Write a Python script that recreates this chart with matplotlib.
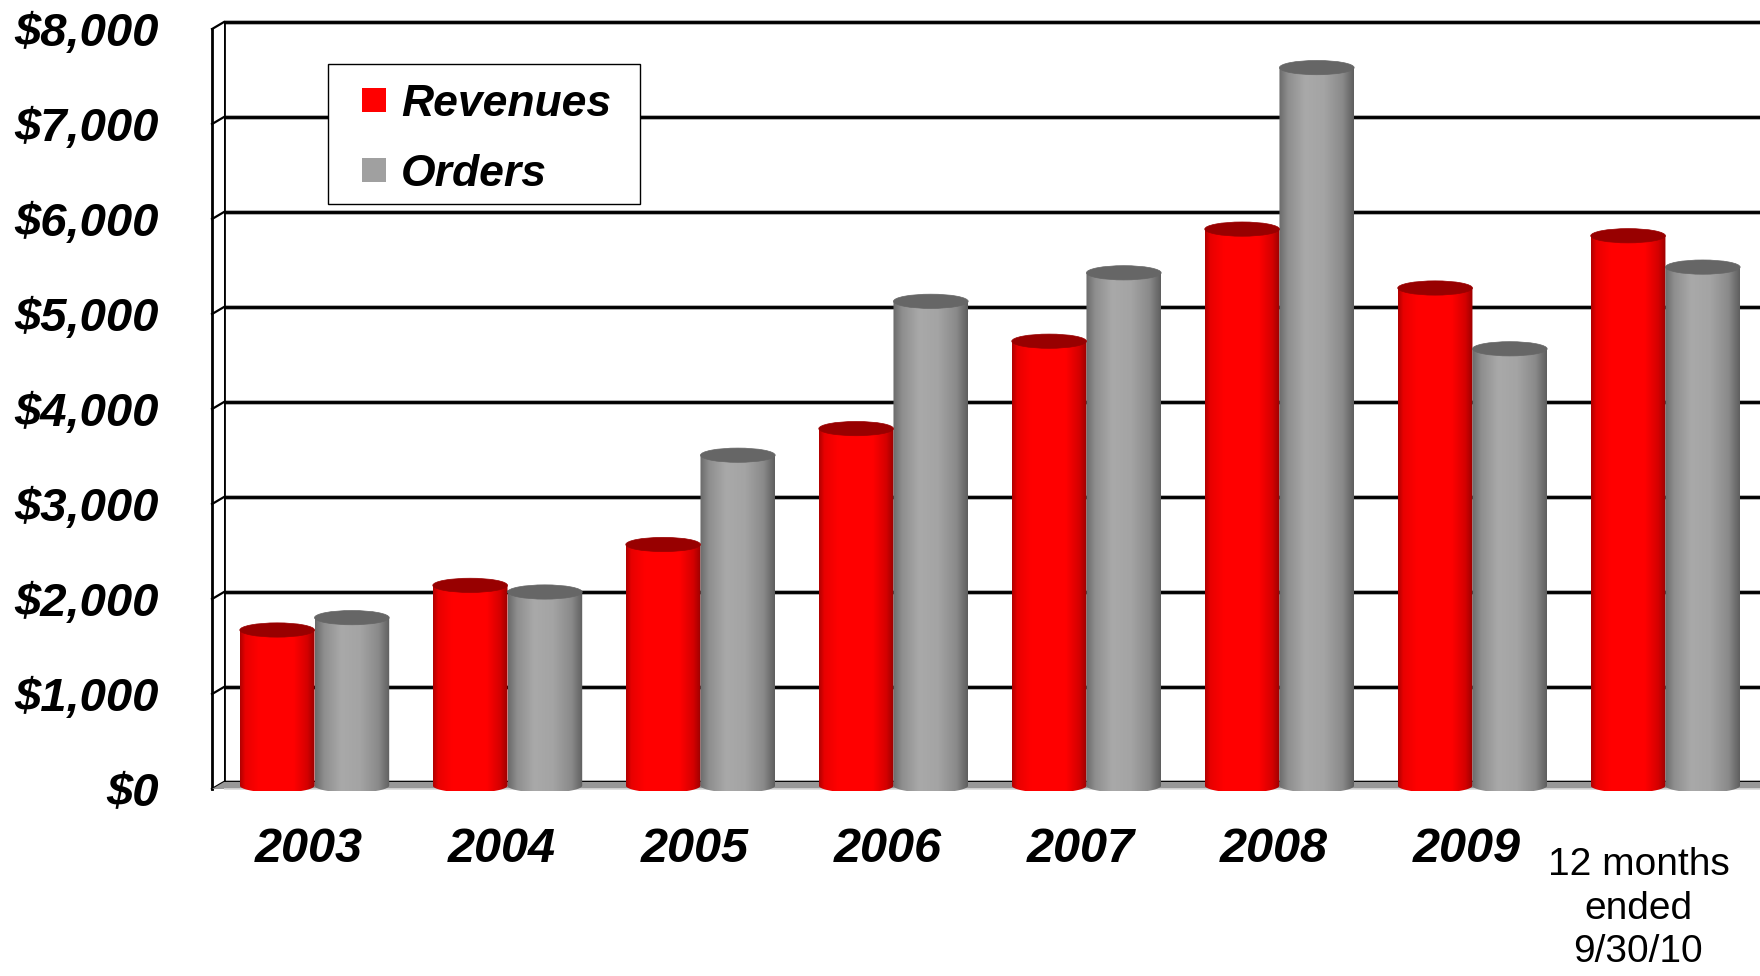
import numpy as np
import matplotlib
matplotlib.use('Agg')
import matplotlib.pyplot as plt
from matplotlib.patches import Ellipse, Polygon, Rectangle
from matplotlib.transforms import blended_transform_factory

# Revenues and orders, $ millions
periods = ['2003', '2004', '2005', '2006', '2007', '2008', '2009']
last_period = '12 months\nended\n9/30/10'
revenues = [1600, 2070, 2500, 3720, 4640, 5820, 5200, 5750]
orders = [1730, 2000, 3440, 5060, 5360, 7520, 4560, 5420]
y_ticks = [0, 1000, 2000, 3000, 4000, 5000, 6000, 7000, 8000]
y_labels = [r'\$0', r'\$1,000', r'\$2,000', r'\$3,000', r'\$4,000',
            r'\$5,000', r'\$6,000', r'\$7,000', r'\$8,000']

W, H = 1760, 976
plt.rcParams['font.family'] = ['Liberation Sans', 'DejaVu Sans']
fig = plt.figure(figsize=(W / 100, H / 100), dpi=100)
fig.patch.set_facecolor('white')

# plot area in pixels: value 0 at y=782, 95 px per 1000
ax = fig.add_axes([224 / W, 1 - 791.5 / H, 1536 / W, (791.5 - 18.2) / H])
x_lo, x_hi = -0.469, 7.49
y_lo, y_hi = -100, 8040
for s in ax.spines.values():
    s.set_visible(False)
ax.set_xticks([])
ax.set_yticks([])

bar_w = 0.387
cap_h = 150      # height of the elliptical caps, data units
floor_d = 74     # floor depth, data units
wall_dx = 0.062  # wall thickness, data units

# back-wall gridlines
for v in y_ticks:
    ax.plot([x_lo, x_hi], [v, v], color='#b0b0b0', lw=3.6, zorder=1,
            solid_capstyle='butt')
    ax.plot([x_lo, x_hi], [v, v], color='black', lw=2.1, zorder=1.1,
            solid_capstyle='butt')
    ax.plot([x_lo, x_lo - wall_dx], [v, v - floor_d], color='black', lw=1.6,
            zorder=1.2, clip_on=False)

# side wall (two vertical lines)
ax.plot([x_lo, x_lo], [0, y_ticks[-1]], color='black', lw=2.0, zorder=1.3)
ax.plot([x_lo - wall_dx, x_lo - wall_dx], [-floor_d, y_ticks[-1] - floor_d],
        color='black', lw=2.0, zorder=1.3, clip_on=False)

# floor
floor = Polygon([(x_lo, 0), (x_hi + 1, 0), (x_hi + 1, -floor_d),
                 (x_lo - wall_dx, -floor_d)], closed=True,
                facecolor='#979797', edgecolor='none', zorder=2, clip_on=False)
ax.add_patch(floor)
ax.plot([x_lo - wall_dx, x_hi], [-floor_d, -floor_d], color='#d8d8d8',
        lw=1.2, zorder=2.1)


def shade(stops, n=200):
    pos = np.array([p for p, _ in stops])
    cols = np.array([matplotlib.colors.to_rgb(c) for _, c in stops])
    xs = np.linspace(0, 1, n)
    rgb = np.stack([np.interp(xs, pos, cols[:, i]) for i in range(3)], axis=-1)
    return rgb[np.newaxis, :, :]


red_shade = shade([(0, '#b00000'), (0.07, '#e80000'), (0.25, '#ff0000'),
                   (0.72, '#ff0000'), (0.9, '#d40000'), (1.0, '#9c0000')])
gray_shade = shade([(0, '#6a6a6a'), (0.12, '#8e8e8e'), (0.35, '#a9a9a9'),
                    (0.6, '#a4a4a4'), (0.85, '#8a8a8a'), (1.0, '#5e5e5e')])


def cylinders(rects, grad, cap_color):
    for r in rects:
        x0, w, top = r.get_x(), r.get_width(), r.get_height()
        xc = x0 + w / 2
        base = -floor_d / 2
        t = np.linspace(np.pi, 2 * np.pi, 80)
        bx = xc + w / 2 * np.cos(t)
        by = base + cap_h / 2 * np.sin(t)
        outline = np.column_stack([np.r_[bx, x0 + w, x0], np.r_[by, top, top]])
        clip = Polygon(outline, closed=True, facecolor='none',
                       edgecolor='none', transform=ax.transData)
        ax.add_patch(clip)
        im = ax.imshow(grad, extent=(x0, x0 + w, base - cap_h / 2, top),
                       aspect='auto', interpolation='bilinear', zorder=3)
        im.set_clip_path(clip)
        ax.add_patch(Ellipse((xc, top), w, cap_h, facecolor=cap_color,
                             edgecolor=cap_color, lw=0.5, zorder=4))


x = np.arange(len(revenues))
rev_bars = ax.bar(x - bar_w / 2, revenues, bar_w, color='none', zorder=0)
ord_bars = ax.bar(x + bar_w / 2, orders, bar_w, color='none', zorder=0)
cylinders(rev_bars, red_shade, '#980000')
cylinders(ord_bars, gray_shade, '#666666')

ax.set_xlim(x_lo, x_hi)
ax.set_ylim(y_lo, y_hi)

# y-axis labels
ytrans = blended_transform_factory(ax.transAxes, ax.transData)
for v, lab in zip(y_ticks, y_labels):
    ax.text((159 - 224) / 1536, v - 130, lab, transform=ytrans, ha='right',
            va='center', fontsize=34, fontweight='bold', fontstyle='italic',
            clip_on=False)

# category labels
xtrans = blended_transform_factory(ax.transData, fig.transFigure)
for i, lab in enumerate(periods):
    ax.text(i - 0.03, 1 - 850 / H, lab, transform=xtrans, ha='center',
            va='center', fontsize=35, fontweight='bold', fontstyle='italic',
            clip_on=False)
ax.text(len(periods) - 0.14, 1 - 847 / H, last_period, transform=xtrans,
        ha='center', va='top', multialignment='center', fontsize=28,
        linespacing=1.27, clip_on=False)

# legend box
def px(x0, y0, w, h):
    return (x0 / W, 1 - (y0 + h) / H), w / W, h / H


xy, w, h = px(328, 64, 312, 140)
fig.add_artist(Rectangle(xy, w, h, transform=fig.transFigure,
                         facecolor='white', edgecolor='black', lw=1.0, zorder=10))
for y0, col, lab in [(88, '#ff0000', 'Revenues'), (158, '#a0a0a0', 'Orders')]:
    xy, w, h = px(362, y0, 24, 24)
    fig.add_artist(Rectangle(xy, w, h, transform=fig.transFigure,
                             facecolor=col, edgecolor='none', zorder=11))
    fig.text(401 / W, 1 - (y0 + 16) / H, lab, ha='left', va='center',
             fontsize=32, fontweight='bold', fontstyle='italic', zorder=12)

fig.savefig('out.png', dpi=100, facecolor='white')
